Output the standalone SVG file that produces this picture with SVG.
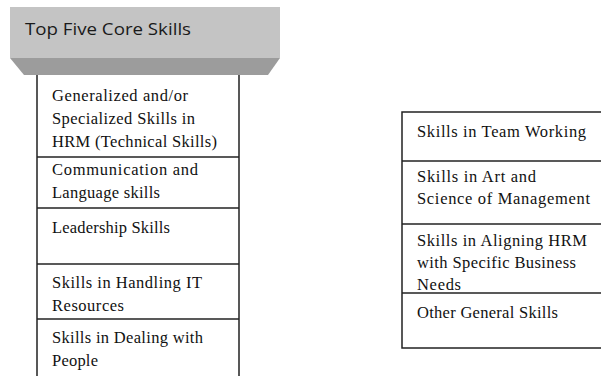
<svg xmlns="http://www.w3.org/2000/svg" width="601" height="376" viewBox="0 0 601 376">
  <style>
    .cell { fill: #ffffff; stroke: #222222; stroke-width: 1.5; }
    .rule { stroke: #222222; stroke-width: 1.5; fill: none; }
    .txt { font-family: "Liberation Serif", "Times New Roman", serif; font-size: 16.5px; fill: #111111; }
    .head { font-family: "Open Sans", "Liberation Sans", Arial, sans-serif; font-size: 17px; fill: #1a1a1a; }
  </style>
  <rect width="601" height="376" fill="#ffffff"/>

  <!-- header block with bevelled lower edge -->
  <g id="header">
    <rect x="10" y="7" width="270" height="51" fill="#c4c4c4"/>
    <polygon points="10,58 280,58 268,75 24,75" fill="#9c9c9c"/>
    <text class="head" x="25" y="35" textLength="166" lengthAdjust="spacingAndGlyphs">Top Five Core Skills</text>
  </g>

  <!-- left column: five core skills -->
  <g id="core-skills">
    <path class="rule" d="M37,75 V376 M239,75 V376"/>
    <g id="core-1">
      <text class="txt" x="52" y="101" textLength="136" lengthAdjust="spacing">Generalized and/or</text>
      <text class="txt" x="52" y="124" textLength="143" lengthAdjust="spacing">Specialized Skills  in</text>
      <text class="txt" x="52" y="147" textLength="165" lengthAdjust="spacing">HRM (Technical Skills)</text>
    </g>
    <path class="rule" d="M37,157 H239"/>
    <g id="core-2">
      <text class="txt" x="52" y="175" textLength="146" lengthAdjust="spacing">Communication and</text>
      <text class="txt" x="52" y="198" textLength="108" lengthAdjust="spacing">Language skills</text>
    </g>
    <path class="rule" d="M37,208 H239"/>
    <g id="core-3">
      <text class="txt" x="52" y="233" textLength="118" lengthAdjust="spacing">Leadership Skills</text>
    </g>
    <path class="rule" d="M37,264 H239"/>
    <g id="core-4">
      <text class="txt" x="52" y="288" textLength="150" lengthAdjust="spacing">Skills  in Handling IT</text>
      <text class="txt" x="52" y="311" textLength="72" lengthAdjust="spacing">Resources</text>
    </g>
    <path class="rule" d="M37,319 H239"/>
    <g id="core-5">
      <text class="txt" x="52" y="343" textLength="151" lengthAdjust="spacing">Skills  in Dealing with</text>
      <text class="txt" x="52" y="366" textLength="46" lengthAdjust="spacing">People</text>
    </g>
  </g>

  <!-- right column: further skills -->
  <g id="other-skills">
    <rect class="cell" x="402" y="112" width="210" height="236"/>
    <g id="other-1">
      <text class="txt" x="417" y="137" textLength="169" lengthAdjust="spacing">Skills  in Team Working</text>
    </g>
    <path class="rule" d="M402,161 H601"/>
    <g id="other-2">
      <text class="txt" x="417" y="182" textLength="119" lengthAdjust="spacing">Skills  in Art  and</text>
      <text class="txt" x="417" y="204" textLength="173" lengthAdjust="spacing">Science of Management</text>
    </g>
    <path class="rule" d="M402,224 H601"/>
    <g id="other-3">
      <text class="txt" x="417" y="246" textLength="170" lengthAdjust="spacing">Skills  in Aligning  HRM</text>
      <text class="txt" x="417" y="268" textLength="159" lengthAdjust="spacing">with Specific Business</text>
      <text class="txt" x="417" y="290" textLength="44" lengthAdjust="spacing">Needs</text>
    </g>
    <path class="rule" d="M402,293 H601"/>
    <g id="other-4">
      <text class="txt" x="417" y="318" textLength="141" lengthAdjust="spacing">Other General Skills</text>
    </g>
  </g>

  <g id="connectors"/>
</svg>
